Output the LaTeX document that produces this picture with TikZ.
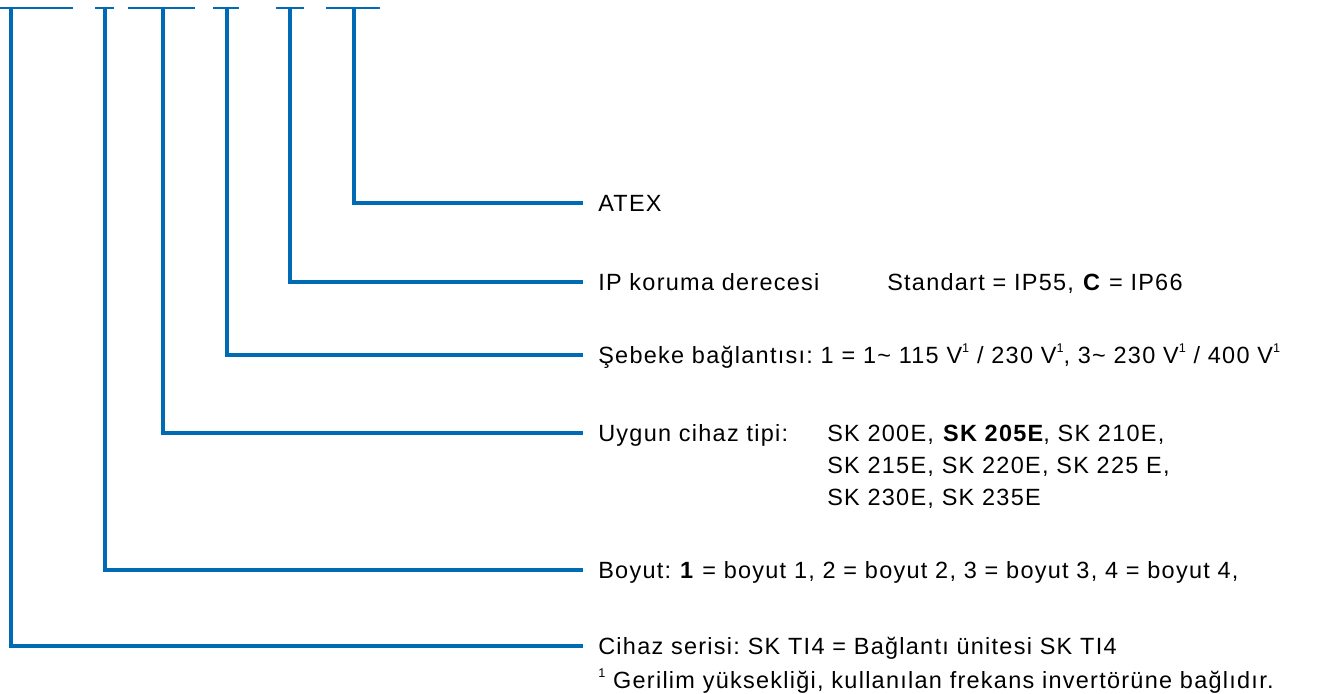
\documentclass[tikz,border=0pt]{standalone}
\usepackage{fontspec}
\setmainfont{Liberation Sans}[LetterSpace=5.4]
\definecolor{nblue}{RGB}{0,106,180}
\newcommand{\sone}{\raisebox{0.45em}{\fontsize{9.5pt}{9.5pt}\selectfont 1}}
\frenchspacing
\begin{document}
\begin{tikzpicture}[x=0.75pt,y=-0.75pt,
  conn/.style={nblue, line width=3pt},
  topbar/.style={nblue, line width=2.2pt},
  lbl/.style={anchor=west, inner xsep=11.25pt, inner ysep=0pt, text height=12.6pt, text depth=0pt, font=\fontsize{17.6pt}{20pt}\selectfont}]
\useasboundingbox (0,0) rectangle (1317,693);
% top bars
\draw[topbar] (0,8) -- (73,8);
\draw[topbar] (95,8) -- (114,8);
\draw[topbar] (128,8) -- (195,8);
\draw[topbar] (213,8) -- (239,8);
\draw[topbar] (276,8) -- (304,8);
\draw[topbar] (326,8) -- (380,8);
\coordinate (t1) at (11,8);
\coordinate (t2) at (105,8);
\coordinate (t3) at (163,8);
\coordinate (t4) at (227,8);
\coordinate (t5) at (290,8);
\coordinate (t6) at (354,8);
% labels
\node[lbl] (atex) at (583,203) {ATEX};
\node[lbl] (ip) at (583,282) {IP koruma derecesi};
\node[lbl] (std) at (872,282) {Standart = IP55, \textbf{C} = IP66};
\node[lbl] (seb) at (583,355) {Şebeke bağlantısı: 1 = 1\textasciitilde{} 115 V\sone{} / 230 V\sone, 3\textasciitilde{} 230 V\sone{} / 400 V\sone};
\node[lbl] (uyg) at (583,433) {Uygun cihaz tipi:};
\node[lbl] (sk1) at (812,433) {SK 200E, \textbf{SK 205E}, SK 210E,};
\node[lbl] (sk2) at (812,465) {SK 215E, SK 220E, SK 225 E,};
\node[lbl] (sk3) at (812,497) {SK 230E, SK 235E};
\node[lbl] (boy) at (583,570) {Boyut: \textbf{1} = boyut 1, 2 = boyut 2, 3 = boyut 3, 4 = boyut 4,};
\node[lbl] (cih) at (583,646) {Cihaz serisi: SK TI4 = Bağlantı ünitesi SK TI4};
\node[lbl] (fn) at (583,680) {\sone{} Gerilim yüksekliği, kullanılan frekans invertörüne bağlıdır.};
% connectors
\draw[conn] (t6) |- (atex.west);
\draw[conn] (t5) |- (ip.west);
\draw[conn] (t4) |- (seb.west);
\draw[conn] (t3) |- (uyg.west);
\draw[conn] (t2) |- (boy.west);
\draw[conn] (t1) |- (cih.west);
\end{tikzpicture}
\end{document}
